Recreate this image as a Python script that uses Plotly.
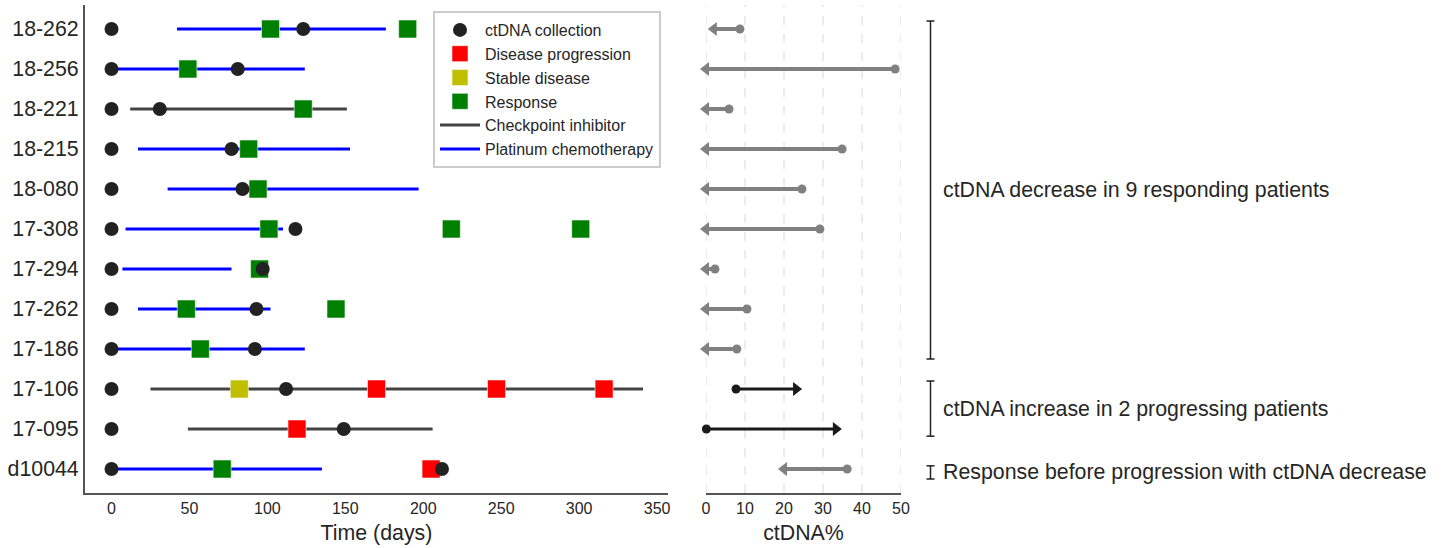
import plotly.graph_objects as go

# Patients, top to bottom
patients = ["18-262", "18-256", "18-221", "18-215", "18-080", "17-308",
            "17-294", "17-262", "17-186", "17-106", "17-095", "d10044"]

# Treatment courses (days): patient, start, end
platinum_patients = ["18-262", "18-256", "18-215", "18-080", "17-308",
                     "17-294", "17-262", "17-186", "d10044"]
platinum_start = [42, 0, 17, 36, 9, 7, 17, 0, 0]
platinum_end = [176, 124, 153, 197, 110, 77, 102, 124, 135]

checkpoint_patients = ["18-221", "17-106", "17-095"]
checkpoint_start = [12, 25, 49]
checkpoint_end = [151, 341, 206]

# Clinical events (days)
ctdna_days = {
    "18-262": [0, 123], "18-256": [0, 81], "18-221": [0, 31],
    "18-215": [0, 77], "18-080": [0, 84], "17-308": [0, 118],
    "17-294": [0, 97], "17-262": [0, 93], "17-186": [0, 92],
    "17-106": [0, 112], "17-095": [0, 149], "d10044": [0, 212],
}
response_days = {
    "18-262": [102, 190], "18-256": [49], "18-221": [123],
    "18-215": [88], "18-080": [94], "17-308": [101, 218, 301],
    "17-294": [95], "17-262": [48, 144], "17-186": [57], "d10044": [71],
}
progression_days = {"17-106": [170, 247, 316], "17-095": [119], "d10044": [205]}
stable_days = {"17-106": [82]}

# ctDNA% at first and second collection
ctdna_before = [8.7, 48.5, 5.9, 34.9, 24.6, 29.2, 2.3, 10.5, 7.9, 7.7, 0.1, 36.2]
ctdna_after = [2.0, 0.0, 0.0, 0.0, 0.0, 0.0, 0.0, 0.0, 0.0, 23.1, 33.3, 20.0]

# ctDNA% axis ticks
pct_ticks = [0, 10, 20, 30, 40, 50]

# Group brackets: (low, high, label) in row units
groups = [
    (2.75, 11.2, "ctDNA decrease in 9 responding patients"),
    (0.82, 2.2, "ctDNA increase in 2 progressing patients"),
    (-0.25, 0.08, "Response before progression with ctDNA decrease"),
]

FONT = "Liberation Sans, Arial, sans-serif"
TXT = "#262626"
BIG = 21.33
SMALL = 16
row = {p: len(patients) - 1 - i for i, p in enumerate(patients)}


def segments(names, starts, ends):
    xs, ys = [], []
    for p, s, e in zip(names, starts, ends):
        xs += [s, e, None]
        ys += [row[p], row[p], None]
    return xs, ys


def points(d):
    xs, ys = [], []
    for p, days in d.items():
        for v in days:
            xs.append(v)
            ys.append(row[p])
    return xs, ys


fig = go.Figure()

cx, cy = segments(checkpoint_patients, checkpoint_start, checkpoint_end)
fig.add_trace(go.Scatter(x=cx, y=cy, mode="lines", name="Checkpoint inhibitor",
                         line=dict(color="#444444", width=3), legendrank=5))
px_, py_ = segments(platinum_patients, platinum_start, platinum_end)
fig.add_trace(go.Scatter(x=px_, y=py_, mode="lines", name="Platinum chemotherapy",
                         line=dict(color="#0000ff", width=3), legendrank=6))

sq_edge = dict(color="rgba(255,255,255,0.55)", width=1)
for d, name, color, rank in [(progression_days, "Disease progression", "#ff0000", 2),
                             (stable_days, "Stable disease", "#bfbf00", 3),
                             (response_days, "Response", "#008000", 4)]:
    x, y = points(d)
    fig.add_trace(go.Scatter(x=x, y=y, mode="markers", name=name, legendrank=rank,
                             marker=dict(symbol="square", size=18, color=color, line=sq_edge)))

x, y = points(ctdna_days)
fig.add_trace(go.Scatter(x=x, y=y, mode="markers", name="ctDNA collection", legendrank=1,
                         marker=dict(symbol="circle", size=14, color="#222222")))

# ctDNA% change arrows: grey for decrease, black for increase
for decrease, color, lw, head in [(True, "#808080", 4, 12), (False, "#1a1a1a", 3, 12)]:
    lx, ly, sx, sy, ex, ey = [], [], [], [], [], []
    for p, b, a in zip(patients, ctdna_before, ctdna_after):
        if (a < b) != decrease:
            continue
        r = row[p]
        lx += [b, a, None]
        ly += [r, r, None]
        sx.append(b); sy.append(r); ex.append(a); ey.append(r)
    fig.add_trace(go.Scatter(x=lx, y=ly, xaxis="x2", yaxis="y2", mode="lines",
                             line=dict(color=color, width=lw), showlegend=False,
                             cliponaxis=False))
    fig.add_trace(go.Scatter(x=sx, y=sy, xaxis="x2", yaxis="y2", mode="markers",
                             marker=dict(symbol="circle", size=9, color=color),
                             showlegend=False, cliponaxis=False))
    fig.add_trace(go.Scatter(x=ex, y=ey, xaxis="x2", yaxis="y2", mode="markers",
                             marker=dict(symbol="triangle-left" if decrease else "triangle-right",
                                         size=head, color=color, line=dict(width=0)),
                             showlegend=False, cliponaxis=False))

W, H = 1448, 548
ydom = [55 / H, 543 / H]
yrange = [-0.6, 11.6]

shapes = []
# dashed vertical grid on the ctDNA% panel (drawn below the data)
for t in pct_ticks:
    shapes.append(dict(type="line", xref="x2", yref="y2 domain", x0=t, x1=t, y0=0, y1=1,
                       layer="below", line=dict(color="#d8d8d8", width=1, dash="dash")))

annotations = []
bx = 930.5 / W
cap = 4 / W
for lo, hi, label in groups:
    shapes.append(dict(type="line", xref="paper", yref="y", x0=bx, x1=bx, y0=lo, y1=hi,
                       line=dict(color="#222222", width=1.5)))
    for v in (lo, hi):
        shapes.append(dict(type="line", xref="paper", yref="y", x0=bx - cap, x1=bx + cap,
                           y0=v, y1=v, line=dict(color="#222222", width=1.5)))
    annotations.append(dict(xref="paper", yref="y", x=941 / W, y=(lo + hi) / 2,
                            text=label, showarrow=False, xanchor="left", yanchor="middle",
                            font=dict(size=BIG, color=TXT, family=FONT)))

fig.update_layout(
    width=W, height=H,
    margin=dict(l=0, r=0, t=0, b=0),
    paper_bgcolor="white", plot_bgcolor="white",
    font=dict(family=FONT, color=TXT),
    showlegend=True,
    legend=dict(x=433 / W, y=1 - 11 / H, xanchor="left", yanchor="top",
                bgcolor="white", bordercolor="#cccccc", borderwidth=2, itemwidth=40,
                font=dict(size=SMALL, color=TXT, family=FONT), tracegroupgap=0),
    xaxis=dict(domain=[85 / W, 668 / W], range=[-17, 357], tickvals=[0, 50, 100, 150, 200, 250, 300, 350],
               showgrid=False, zeroline=False, showline=True, linecolor="#555555", linewidth=2,
               ticks="", tickfont=dict(size=SMALL, color=TXT),
               title=dict(text="Time (days)", font=dict(size=BIG, color=TXT), standoff=9),
               automargin=False),
    yaxis=dict(domain=ydom, range=yrange, tickvals=[row[p] for p in patients], ticktext=patients,
               showgrid=False, zeroline=False, showline=True, linecolor="#555555", linewidth=2,
               ticks="", tickfont=dict(size=BIG, color=TXT), automargin=False),
    xaxis2=dict(domain=[706 / W, 901 / W], anchor="y2", range=[0, 50],
                tickvals=pct_ticks, showgrid=False, zeroline=False, showline=True,
                linecolor="#555555", linewidth=2, ticks="", tickfont=dict(size=SMALL, color=TXT),
                title=dict(text="ctDNA%", font=dict(size=BIG, color=TXT), standoff=9),
                automargin=False),
    yaxis2=dict(domain=ydom, anchor="x2", range=yrange, showticklabels=False, showgrid=False,
                zeroline=False, showline=False, ticks=""),
    shapes=shapes,
    annotations=annotations,
)

fig.write_html("out.html")
